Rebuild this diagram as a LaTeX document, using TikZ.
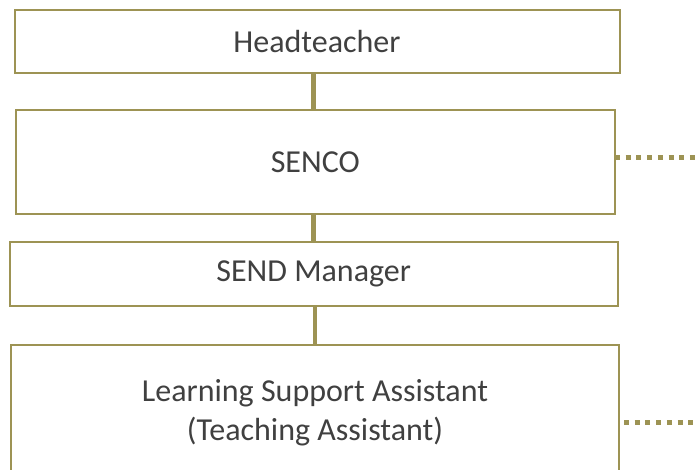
\documentclass[tikz,border=0pt]{standalone}
\usepackage{fontspec}
\setmainfont{Carlito}
\usetikzlibrary{positioning}
\definecolor{rolegold}{RGB}{157,147,84}
\definecolor{roletext}{RGB}{64,64,64}
\tikzstyle{role} = [rectangle,draw=rolegold,line width=2pt,outer sep=0pt,text=roletext,align=center,font=\fontsize{32}{39}\selectfont]
\tikzstyle{link} = [draw=rolegold,line width=4.5pt]
\tikzstyle{dotlink} = [draw=rolegold,line width=5pt,dash pattern=on 5pt off 5.7pt]

\begin{document}
\begin{tikzpicture}[x=1pt,y=-1pt]
	\useasboundingbox (0,0) rectangle (695,470);
	\node[role,minimum width=605pt,minimum height=62.5pt] (head) at (317,41.75) {Headteacher};
	\node[role,minimum width=599.5pt,minimum height=104pt] (senco) [below=37pt of head,xshift=-1.75pt] {SENCO};
	\node[role,minimum width=608pt,minimum height=64.3pt] (sendman) [below=27.7pt of senco,xshift=-1.55pt] {SEND Manager};
	\node[role,minimum width=608pt,minimum height=136pt] (lsa) [below=39pt of sendman,xshift=1.3pt] {Learning Support Assistant\\(Teaching Assistant)};
	\draw[link] ([xshift=-3.5pt]head.south) -- ([xshift=-3.5pt]head.south |- senco.north);
	\draw[link] ([xshift=-1.75pt]senco.south) -- ([xshift=-1.75pt]senco.south |- sendman.north);
	\draw[link] ([xshift=1.3pt]sendman.south) -- ([xshift=1.3pt]sendman.south |- lsa.north);
	% dotted links to the right edge
	\coordinate (sencoout) at (695,158);
	\coordinate (lsaout) at (695,422);
	\draw[dotlink] (senco.east |- sencoout) -- (sencoout);
	\draw[dotlink,shorten <=5pt] (lsa.east |- lsaout) -- (lsaout);
\end{tikzpicture}
\end{document}
